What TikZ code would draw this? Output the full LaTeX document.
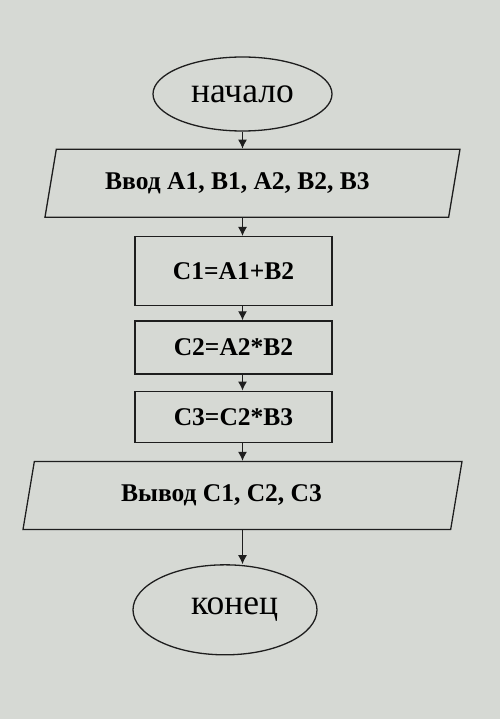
\documentclass[tikz,border=0pt]{standalone}
\usepackage{fontspec}
\setmainfont{Liberation Serif}
\usepackage{tikz}
\usetikzlibrary{positioning, arrows.meta, shapes.geometric, backgrounds}

\definecolor{screen}{RGB}{214,217,212}
\definecolor{ink}{RGB}{30,30,30}

\begin{document}
\begin{tikzpicture}[
  font=\bfseries\fontsize{25.5}{28}\selectfont,
  term/.style={draw=ink, ellipse, line width=1.3pt, inner sep=0pt,
    font=\fontsize{35.5}{38}\selectfont},
  io/.style={draw=ink, trapezium, trapezium left angle=62,
    trapezium right angle=118, trapezium stretches body, line width=1.3pt,
    inner sep=0pt, minimum height=68pt},
  proc/.style={draw=ink, rectangle, line width=1.3pt, inner sep=0pt,
    minimum width=197pt},
  arrow/.style={-{Latex[length=9pt, width=9pt]}, line width=1.2pt, ink},
  node distance=17pt,
]
  \useasboundingbox[fill=screen] (0,0) rectangle (500pt,-719pt);

  \node[term, minimum width=179pt, minimum height=74pt] (start)
    at (242.5pt,-94pt) {начало};
  \node[io, minimum width=415pt, below=17pt of start, xshift=10pt] (in)
    {\hspace*{-30pt}Ввод A1, B1, A2, B2, B3};
  \node[proc, minimum height=69pt, below=18pt of in, xshift=-19pt] (c1)
    {C1=A1+B2};
  \node[proc, minimum height=53pt, below=14pt of c1] (c2) {C2=A2*B2};
  \node[proc, minimum height=51pt, below=16pt of c2] (c3) {C3=C2*B3};
  \node[io, minimum width=439pt, below=18pt of c3, xshift=9pt] (out)
    {\hspace*{-42pt}Вывод C1, C2, C3};
  \node[term, minimum width=184pt, minimum height=90pt, below=34pt of out,
    xshift=-17.5pt] (end) {\hspace*{19pt}конец};

  \draw[arrow] (start.south) -- (start.south |- in.north);
  \foreach \a/\b in {in/c1, c1/c2, c2/c3, c3/out, out/end}
    \draw[arrow] (\a.south -| start) -- (\b.north -| start);
\end{tikzpicture}
\end{document}
